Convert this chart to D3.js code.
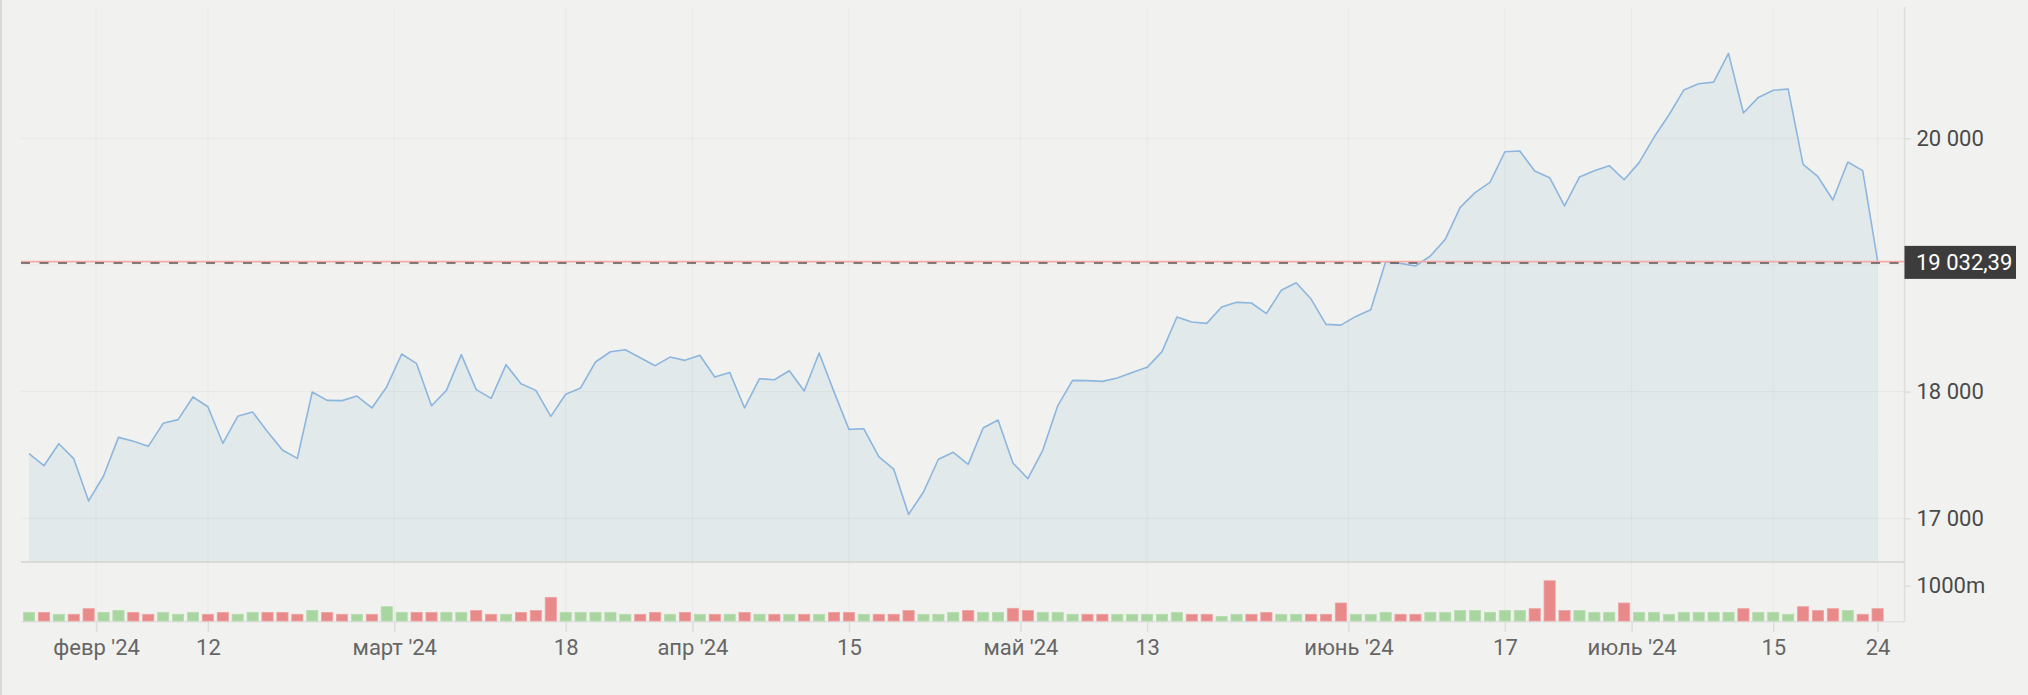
<!DOCTYPE html>
<html><head><meta charset="utf-8">
<script src="https://cdn.jsdelivr.net/npm/d3@7"></script>
<style>
html,body{margin:0;padding:0;background:#f1f2ef;}
svg{display:block;font-family:Roboto,"Noto Sans",sans-serif;}
</style>
</head><body>
<svg id="chart" width="2028" height="695"></svg>
<script>
// ---------- data ----------
const dates = [
 "2024-01-25","2024-01-26","2024-01-29","2024-01-30","2024-01-31",
 "2024-02-01","2024-02-02","2024-02-05","2024-02-06","2024-02-07","2024-02-08","2024-02-09","2024-02-12","2024-02-13","2024-02-14","2024-02-15","2024-02-16","2024-02-20","2024-02-21","2024-02-22","2024-02-23","2024-02-26","2024-02-27","2024-02-28","2024-02-29",
 "2024-03-01","2024-03-04","2024-03-05","2024-03-06","2024-03-07","2024-03-08","2024-03-11","2024-03-12","2024-03-13","2024-03-14","2024-03-15","2024-03-18","2024-03-19","2024-03-20","2024-03-21","2024-03-22","2024-03-25","2024-03-26","2024-03-27","2024-03-28",
 "2024-04-01","2024-04-02","2024-04-03","2024-04-04","2024-04-05","2024-04-08","2024-04-09","2024-04-10","2024-04-11","2024-04-12","2024-04-15","2024-04-16","2024-04-17","2024-04-18","2024-04-19","2024-04-22","2024-04-23","2024-04-24","2024-04-25","2024-04-26","2024-04-29","2024-04-30",
 "2024-05-01","2024-05-02","2024-05-03","2024-05-06","2024-05-07","2024-05-08","2024-05-09","2024-05-10","2024-05-13","2024-05-14","2024-05-15","2024-05-16","2024-05-17","2024-05-20","2024-05-21","2024-05-22","2024-05-23","2024-05-24","2024-05-28","2024-05-29","2024-05-30","2024-05-31",
 "2024-06-03","2024-06-04","2024-06-05","2024-06-06","2024-06-07","2024-06-10","2024-06-11","2024-06-12","2024-06-13","2024-06-14","2024-06-17","2024-06-18","2024-06-20","2024-06-21","2024-06-24","2024-06-25","2024-06-26","2024-06-27","2024-06-28",
 "2024-07-01","2024-07-02","2024-07-03","2024-07-05","2024-07-08","2024-07-09","2024-07-10","2024-07-11","2024-07-12","2024-07-15","2024-07-16","2024-07-17","2024-07-18","2024-07-19","2024-07-22","2024-07-23","2024-07-24"
];
const closes = [
 17510,17415,17589,17471,17137,
 17334,17639,17608,17568,17750,17779,17958,17881,17592,17805,17839,17684,17539,17473,17997,17931,17929,17965,17871,18039,
 18297,18221,17889,18010,18292,18016,17947,18213,18063,18010,17805,17979,18029,18234,18315,18331,18268,18205,18273,18247,
 18287,18116,18152,17871,18102,18094,18165,18005,18305,17998,17702,17707,17487,17389,17031,17208,17466,17521,17426,17713,17776,17437,
 17313,17537,17887,18089,18087,18081,18108,18152,18192,18316,18589,18550,18539,18668,18705,18700,18616,18800,18860,18731,18531,18525,
 18594,18647,19026,19013,18992,19071,19202,19455,19571,19652,19894,19900,19742,19689,19466,19694,19744,19784,19673,
 19808,20008,20184,20381,20431,20444,20671,20200,20323,20379,20389,19794,19697,19513,19813,19745,19032.39
];
const volumes = [
 245,245,190,190,350,
 245,300,245,190,245,190,245,190,245,190,245,245,245,190,300,245,190,190,190,405,
 245,245,245,245,245,300,190,190,245,300,670,245,245,245,245,190,190,245,190,245,
 190,190,190,245,190,190,190,190,190,245,245,190,190,190,300,190,190,245,300,245,245,360,
 300,245,245,190,190,190,190,190,190,190,245,190,190,130,190,190,245,190,190,190,190,510,
 190,190,245,190,190,245,245,300,300,245,300,300,350,1140,300,300,245,245,510,
 245,245,190,245,245,245,245,350,245,245,190,405,300,350,300,190,350
];
const tickDates = ["2024-02-01","2024-02-12","2024-03-01","2024-03-18","2024-04-01","2024-04-15","2024-05-01","2024-05-13","2024-06-03","2024-06-17","2024-07-01","2024-07-15","2024-07-24"];
const tickLabels = ["февр '24","12","март '24","18","апр '24","15","май '24","13","июнь '24","17","июль '24","15","24"];
const priceGrid = [17000,18000,19000,20000];
const priceLabels = [17000,18000,20000];
const volumeTicks = [1000];
const lastValue = 19032.39;

// ---------- layout ----------
const svg = d3.select("#chart");
const L = 21, R = 1904.5, pTop = 7, pBottom = 562, vBase = 621;

const ru = d3.formatLocale({decimal:",", thousands:" ", grouping:[3], currency:["",""]});
const fmtInt = ru.format(",.0f"), fmtLast = ru.format(",.2f");

const x = d3.scalePoint().domain(dates).range([29, 1877.6]);
const step = x.step();
const y = d3.scaleLinear().domain([16655, 21029]).range([pBottom, 8]);
const yv = d3.scaleLinear().domain([0, 1000]).range([vBase, 585.7]);

// tick positions: month starts sit half a step before the first trading day
const tickPos = tickDates.map(d => {
  const i = dates.indexOf(d);
  const monthStart = i > 0 && dates[i-1].slice(0,7) !== d.slice(0,7);
  return x(d) - (monthStart ? step/2 : 0);
});
const xt = d3.scaleOrdinal(tickDates, tickPos);

svg.append("rect").attr("width",2028).attr("height",695).attr("fill","#f1f2ef");
svg.append("line").attr("x1",1).attr("x2",1).attr("y1",0).attr("y2",695).attr("stroke","#d9dad7").attr("stroke-width",2);

// area + line
const pts = dates.map((d,i)=>({d, v: closes[i], vol: volumes[i], up: i===0 ? true : closes[i] >= closes[i-1]}));
svg.append("path").datum(pts)
  .attr("d", d3.area().x(p=>x(p.d)).y0(pBottom).y1(p=>y(p.v)))
  .attr("fill","#e2e9eb");

// grid
const grid = svg.append("g").attr("stroke","rgba(0,0,0,0.03)").attr("stroke-width",1.2);
grid.selectAll("line.h").data(priceGrid).join("line")
  .attr("x1",L).attr("x2",R).attr("y1",d=>y(d)).attr("y2",d=>y(d));
grid.selectAll("line.v").data(tickDates).join("line")
  .attr("x1",d=>xt(d)).attr("x2",d=>xt(d)).attr("y1",pTop).attr("y2",vBase);

svg.append("path").datum(pts)
  .attr("d", d3.line().x(p=>x(p.d)).y(p=>y(p.v)))
  .attr("fill","none").attr("stroke","#8db6de").attr("stroke-width",1.6).attr("stroke-linejoin","round");

// axis frame lines
svg.append("line").attr("x1",L).attr("x2",R).attr("y1",pBottom).attr("y2",pBottom).attr("stroke","#d2d4d1").attr("stroke-width",1.6);
svg.append("line").attr("x1",L).attr("x2",R).attr("y1",vBase+0.8).attr("y2",vBase+0.8).attr("stroke","#dfe1df").attr("stroke-width",1.5);
svg.append("line").attr("x1",R).attr("x2",R).attr("y1",pTop).attr("y2",vBase+1).attr("stroke","#dcdedb").attr("stroke-width",1.5);

// volume bars
const bw = step*0.75;
svg.append("g").selectAll("rect").data(pts).join("rect")
  .attr("x",p=>x(p.d)-bw/2).attr("width",bw)
  .attr("y",p=>yv(p.vol)).attr("height",p=>vBase - yv(p.vol))
  .attr("fill",p=>p.up ? "#a9d5a0" : "#e8898a")
  .attr("stroke",p=>p.up ? "#b8dcb0" : "#f0a2a2").attr("stroke-width",0.8);

// x axis
const xAxis = d3.axisBottom(xt).tickSize(10).tickPadding(7)
  .tickFormat(d => tickLabels[tickDates.indexOf(d)]);
const gx = svg.append("g").attr("transform",`translate(0,${vBase+1})`).call(xAxis);
gx.select(".domain").remove();
gx.selectAll(".tick line").attr("stroke","#dcdedb").attr("stroke-width",1.5);
gx.selectAll(".tick text").attr("fill","#666").attr("font-size",22).attr("font-family","Roboto");

// y axis (price): tick marks on every grid level, labels where the reference shows them
const gy = svg.append("g").attr("transform",`translate(${R},0)`)
  .call(d3.axisRight(y).tickValues(priceLabels).tickSize(6).tickPadding(6).tickFormat(fmtInt));
gy.select(".domain").remove();
gy.selectAll(".tick line").attr("stroke","#dcdedb").attr("stroke-width",1.5);
gy.selectAll(".tick text").attr("fill","#4a4a4a").attr("font-size",22).attr("font-family","Roboto");

// y axis (volume)
const gv = svg.append("g").attr("transform",`translate(${R},0)`)
  .call(d3.axisRight(yv).tickValues(volumeTicks).tickSize(6).tickPadding(6).tickFormat(d=>d+"m"));
gv.select(".domain").remove();
gv.selectAll(".tick line").attr("stroke","#dcdedb").attr("stroke-width",1.5);
gv.selectAll(".tick text").attr("fill","#4a4a4a").attr("font-size",22).attr("font-family","Roboto");

// last value line + label
const yl = y(lastValue) + 1.5;
svg.append("line").attr("x1",L).attr("x2",R).attr("y1",yl-0.8).attr("y2",yl-0.8)
  .attr("stroke","#f6aaa7").attr("stroke-width",1.6);
svg.append("line").attr("x1",L).attr("x2",R).attr("y1",yl+0.6).attr("y2",yl+0.6)
  .attr("stroke","#5c5656").attr("stroke-width",1.5).attr("stroke-dasharray","9,9.5");
svg.append("rect").attr("x",R).attr("y",yl-16.5).attr("width",111.5).attr("height",33).attr("fill","#3d3c3c");
svg.append("text").attr("x",R+11.5).attr("y",yl).attr("dy","0.35em")
  .attr("fill","#ffffff").attr("font-size",22).attr("font-family","Roboto").text(fmtLast(lastValue));
</script>
</body></html>
